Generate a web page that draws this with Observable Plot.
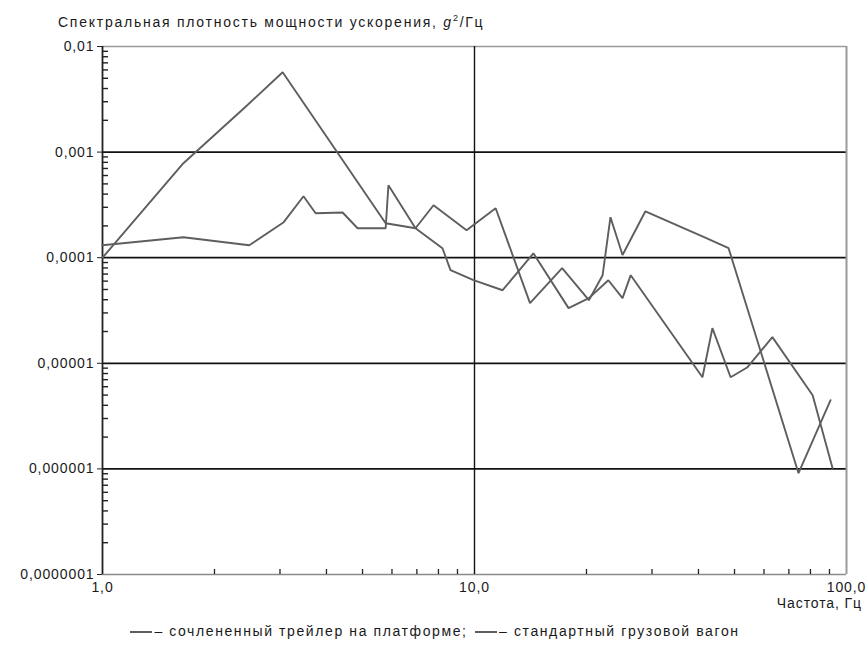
<!DOCTYPE html>
<html>
<head>
<meta charset="utf-8">
<script src="https://cdn.jsdelivr.net/npm/d3@7"></script>
<script src="https://cdn.jsdelivr.net/npm/@observablehq/plot@0.6"></script>
<style>
  body { margin: 0; background: #fff; font-family: "Liberation Sans", Arial, sans-serif; color: #1a1a1a; }
  #wrap { width: 868px; height: 651px; position: relative; overflow: hidden; }
  #title { height: 32px; box-sizing: border-box; padding-top: 15px; padding-left: 58px; font-size: 14px; line-height: 14px; letter-spacing: 1.75px; white-space: nowrap; }
  #title sup { font-size: 9px; line-height: 0; vertical-align: 6px; }
  #xlabel { height: 18px; line-height: 18px; text-align: right; padding-right: 6px; font-size: 14px; letter-spacing: 0.9px; }
  #legend { margin-top: 10px; height: 18px; line-height: 18px; text-align: center; font-size: 14px; letter-spacing: 1.6px; white-space: nowrap; }
  .sw { display: inline-block; width: 22px; border-top: 2px solid #5e5e5e; vertical-align: middle; margin-right: 2px; margin-left: 2px; }
  svg { overflow: visible; display: block; }
</style>
</head>
<body>
<div id="wrap">
  <div id="title">Спектральная плотность мощности ускорения, <i>g</i><sup>2</sup>/Гц</div>
  <div id="chart"></div>
  <div id="xlabel">Частота, Гц</div>
  <div id="legend"></div>
</div>
<script>
// Series names (legend)
const seriesNames = ["сочлененный трейлер на платформе", "стандартный грузовой вагон"];

// Series A (peak near 3 Hz)
const freqA = [1.0, 1.65, 2.45, 3.05, 5.77, 6.94, 8.20, 8.62, 9.94, 11.9, 14.4, 17.9, 20.3, 22.9, 25.0, 26.3, 41.0, 43.6, 48.8, 54.2, 63.2, 81.1, 91.7];
const psdA  = [1.0e-4, 7.85e-4, 2.78e-3, 5.71e-3, 2.12e-4, 1.90e-4, 1.23e-4, 7.62e-5, 6.12e-5, 4.92e-5, 1.10e-4, 3.33e-5, 4.14e-5, 6.12e-5, 4.14e-5, 6.83e-5, 7.38e-6, 2.15e-5, 7.38e-6, 9.18e-6, 1.77e-5, 4.99e-6, 1.02e-6];

// Series B
const freqB = [1.0, 1.65, 2.48, 3.07, 3.47, 3.74, 4.42, 4.85, 5.77, 5.87, 6.94, 7.76, 9.52, 11.4, 14.1, 17.2, 20.3, 22.1, 23.2, 25.0, 28.8, 42.0, 48.2, 74.3, 90.6];
const psdB  = [1.31e-4, 1.56e-4, 1.31e-4, 2.17e-4, 3.82e-4, 2.64e-4, 2.68e-4, 1.90e-4, 1.90e-4, 4.86e-4, 1.90e-4, 3.14e-4, 1.82e-4, 2.94e-4, 3.71e-5, 7.96e-5, 3.96e-5, 6.83e-5, 2.42e-4, 1.06e-4, 2.75e-4, 1.53e-4, 1.23e-4, 9.1e-7, 4.48e-6];

// Axis ticks and labels
const xTicks = [1, 10, 100];
const xTickLabels = ["1,0", "10,0", "100,0"];
const xMinor = [2, 3, 4, 5, 6, 7, 8, 9, 20, 30, 40, 50, 60, 70, 80, 90];
const yTicks = [1e-7, 1e-6, 1e-5, 1e-4, 1e-3, 1e-2];
const yTickLabels = ["0,0000001", "0,000001", "0,00001", "0,0001", "0,001", "0,01"];
const yMinor = [];
for (let d = 0; d < 5; d++) for (let m = 2; m <= 9; m++) yMinor.push(+(m * yTicks[d]).toPrecision(3));

const rows = [
  ...freqA.map((f, i) => ({f, v: psdA[i], s: seriesNames[0]})),
  ...freqB.map((f, i) => ({f, v: psdB[i], s: seriesNames[1]}))
];

const lineColor = "#5e5e5e";

const chart = Plot.plot({
  width: 868,
  height: 562,
  marginLeft: 102,
  marginRight: 22,
  marginTop: 14,
  marginBottom: 20,
  style: {fontFamily: "'Liberation Sans', Arial, sans-serif", fontSize: "14px", color: "#1a1a1a", background: "#fff", letterSpacing: "0.9px"},
  x: {type: "log", domain: [1, 100]},
  y: {type: "log", domain: [1e-7, 1e-2]},
  marks: [
    Plot.ruleY(yTicks.slice(1, 5), {stroke: "#111", strokeWidth: 1.8}),
    Plot.ruleY([1e-2], {stroke: "#9a9a9a", strokeWidth: 1.6}),
    Plot.ruleY([1e-7], {stroke: "#8a8a8a", strokeWidth: 1.6}),
    Plot.ruleX([10], {stroke: "#111", strokeWidth: 1.4}),
    Plot.ruleX([100], {stroke: "#9a9a9a", strokeWidth: 2}),
    Plot.ruleX([1], {stroke: "#222", strokeWidth: 1.8}),
    Plot.axisY({ticks: yTicks, tickFormat: d => yTickLabels[yTicks.indexOf(d)], tickSize: 5, tickPadding: 3, label: null, stroke: "#222"}),
    Plot.axisY({ticks: yMinor, tickSize: -6, tickFormat: () => "", label: null, stroke: "#222", strokeWidth: 1.4}),
    Plot.axisX({ticks: xTicks, tickFormat: d => xTickLabels[xTicks.indexOf(d)], tickSize: 0, tickPadding: 8, label: null}),
    Plot.axisX({ticks: xMinor, tickSize: -5, tickFormat: () => "", label: null, stroke: "#222", strokeWidth: 1.3}),
    Plot.line(rows, {x: "f", y: "v", z: "s", stroke: lineColor, strokeWidth: 1.9, strokeLinejoin: "miter"})
  ]
});
document.getElementById("chart").appendChild(chart);

const legend = document.getElementById("legend");
seriesNames.forEach((name, i) => {
  const sw = document.createElement("span");
  sw.className = "sw";
  legend.appendChild(sw);
  legend.appendChild(document.createTextNode("– " + name + (i < seriesNames.length - 1 ? "; " : "")));
});
</script>
</body>
</html>
